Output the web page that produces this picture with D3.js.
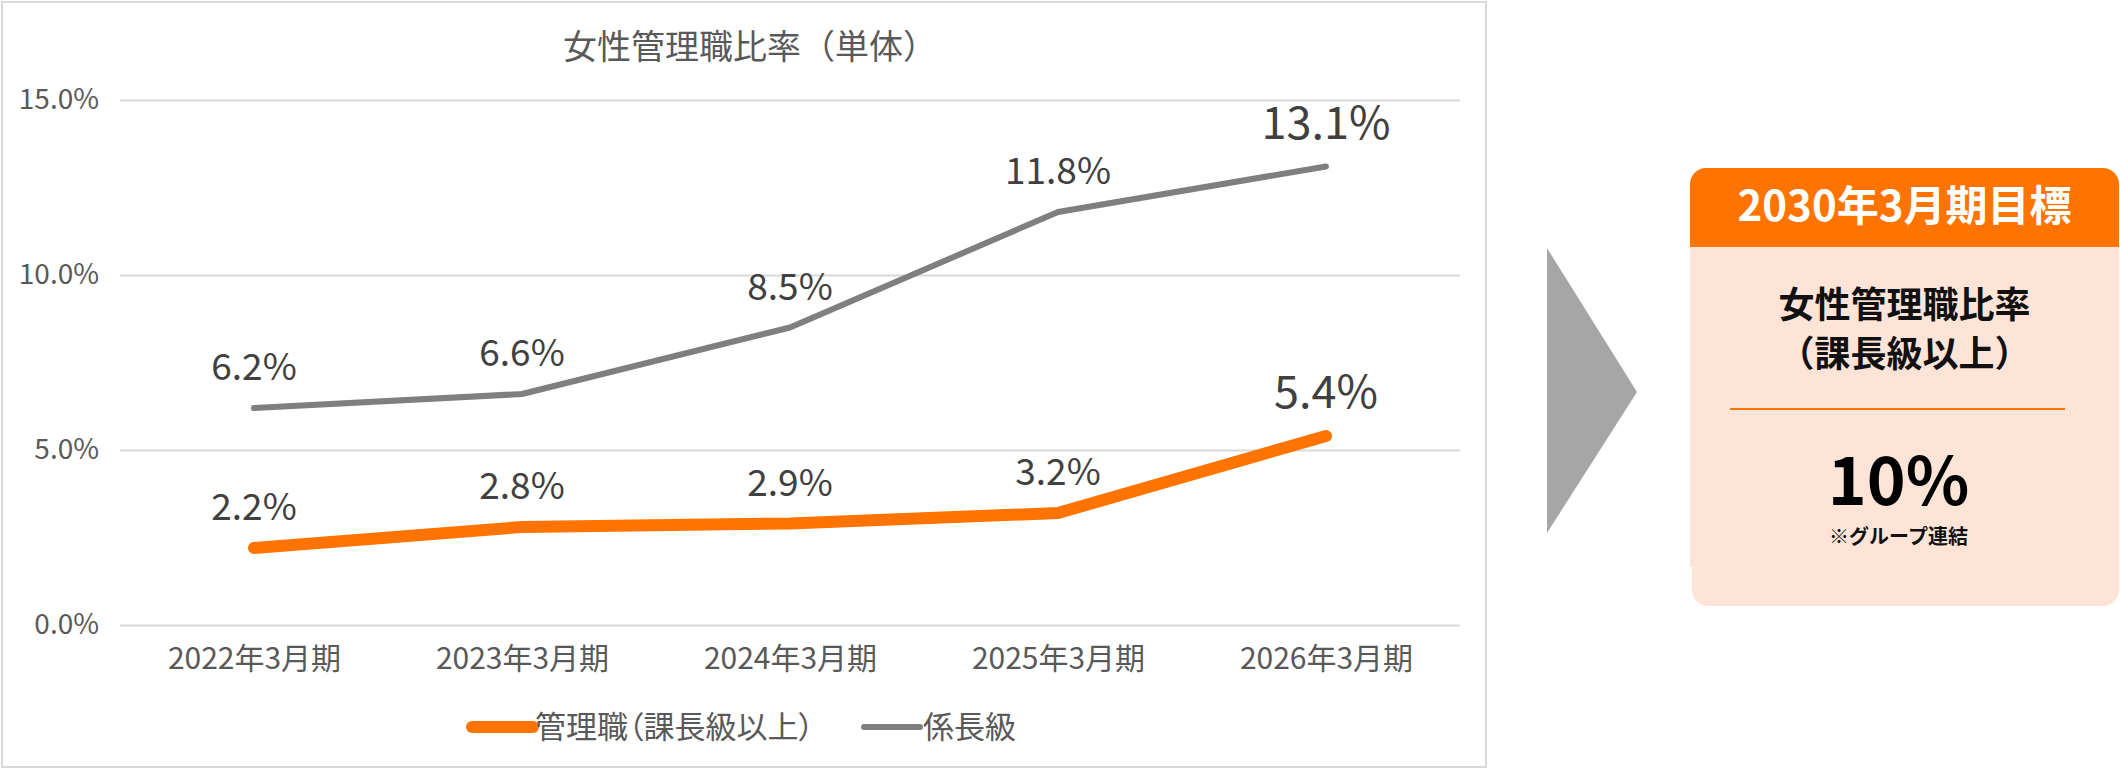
<!DOCTYPE html>
<html>
<head>
<meta charset="utf-8">
<script src="https://cdn.jsdelivr.net/npm/d3@7/dist/d3.min.js"></script>
<style>
  body { margin: 0; background: #fff; }
  text { font-family: "Noto Sans CJK JP", "Noto Sans", sans-serif; }
</style>
</head>
<body>
<div id="chart"></div>
<script>
// data
const categories = ["2022年3月期", "2023年3月期", "2024年3月期", "2025年3月期", "2026年3月期"];
const managerValues = [2.2, 2.8, 2.9, 3.2, 5.4];   // 管理職(課長級以上)
const chiefValues = [6.2, 6.6, 8.5, 11.8, 13.1];   // 係長級
const yTicks = [0, 5, 10, 15];
const seriesNames = ["管理職（課長級以上）", "係長級"];
const chartTitle = "女性管理職比率（単体）";
const goalHeader = "2030年3月期目標";
const goalLines = ["女性管理職比率", "（課長級以上）"];
const goalValue = "10%";
const goalNote = "※グループ連結";

const W = 2120, H = 771;
const orange = "#ff7300", gray = "#7f7f7f";

const svg = d3.select("#chart").append("svg")
  .attr("width", W)
  .attr("height", H);

// chart frame
svg.append("rect")
  .attr("x", 2).attr("y", 2)
  .attr("width", 1484).attr("height", 765)
  .attr("fill", "#fff")
  .attr("stroke", "#d9d9d9")
  .attr("stroke-width", 2);

const plotLeft = 120, plotRight = 1460, plotTop = 100, plotBottom = 625;

let x = d3.scalePoint()
  .domain(categories)
  .range([plotLeft, plotRight])
  .padding(0.5);

let y = d3.scaleLinear()
  .domain([0, 15])
  .range([plotBottom, plotTop]);

// title
svg.append("text")
  .attr("x", 750)
  .attr("y", 59)
  .attr("text-anchor", "middle")
  .attr("font-size", 34)
  .attr("fill", "#595959")
  .text(chartTitle);

// y axis + gridlines
let yAxis = svg.append("g")
  .attr("transform", "translate(" + plotLeft + ",0)")
  .call(d3.axisLeft(y)
    .tickValues(yTicks)
    .tickSize(-(plotRight - plotLeft))
    .tickPadding(21)
    .tickFormat(d => d.toFixed(1) + "%"));
yAxis.select(".domain").remove();
yAxis.selectAll("line").attr("stroke", "#d9d9d9").attr("stroke-width", 2);
yAxis.selectAll("text")
  .attr("font-size", 28)
  .attr("fill", "#595959")
  .style("font-family", "'Noto Sans CJK JP', sans-serif");

// x axis labels
let xAxis = svg.append("g")
  .attr("transform", "translate(0," + plotBottom + ")")
  .call(d3.axisBottom(x).tickSize(0).tickPadding(23));
xAxis.select(".domain").remove();
xAxis.selectAll("text")
  .attr("font-size", 30)
  .attr("fill", "#595959")
  .style("font-family", "'Noto Sans CJK JP', sans-serif");

let line = d3.line()
  .x((d, i) => x(categories[i]))
  .y(d => y(d));

svg.append("path")
  .datum(chiefValues)
  .attr("d", line)
  .attr("fill", "none")
  .attr("stroke", gray)
  .attr("stroke-width", 6)
  .attr("stroke-linecap", "round")
  .attr("stroke-linejoin", "round");

svg.append("path")
  .datum(managerValues)
  .attr("d", line)
  .attr("fill", "none")
  .attr("stroke", orange)
  .attr("stroke-width", 12)
  .attr("stroke-linecap", "round")
  .attr("stroke-linejoin", "round");

// data labels, last one is bigger
[managerValues, chiefValues].forEach(vals => {
  svg.append("g").selectAll("text")
    .data(vals)
    .join("text")
    .attr("x", (d, i) => x(categories[i]))
    .attr("y", d => y(d) - 28)
    .attr("text-anchor", "middle")
    .attr("font-size", (d, i) => i == vals.length - 1 ? 45 : 37)
    .attr("fill", "#404040")
    .text(d => d.toFixed(1) + "%");
});

// legend
let legend = svg.append("g");
let legendItems = [
  {name: seriesNames[0], color: orange, w: 12, x1: 472, x2: 533, tx: 535},
  {name: seriesNames[1], color: gray, w: 6, x1: 864, x2: 920, tx: 923}
];
legendItems.forEach(it => {
  legend.append("line")
    .attr("x1", it.x1).attr("x2", it.x2)
    .attr("y1", 727).attr("y2", 727)
    .attr("stroke", it.color)
    .attr("stroke-width", it.w)
    .attr("stroke-linecap", "round");
  legend.append("text")
    .attr("x", it.tx)
    .attr("y", 738)
    .attr("font-size", 31)
    .attr("fill", "#595959")
    .style("font-feature-settings", "'palt'")
    .text(it.name);
});

// arrow
svg.append("path")
  .attr("d", "M1547,248 L1637,392 L1547,533 Z")
  .attr("fill", "#a6a6a6");

// goal box
let bx = 1690, bw = 429;
svg.append("rect")
  .attr("x", bx).attr("y", 168)
  .attr("width", bw).attr("height", 100)
  .attr("rx", 16)
  .attr("fill", orange);
svg.append("rect")
  .attr("x", bx + 2).attr("y", 247)
  .attr("width", bw - 2).attr("height", 359)
  .attr("rx", 16)
  .attr("fill", "#fee4d6");
svg.append("rect")
  .attr("x", bx).attr("y", 247)
  .attr("width", bw).attr("height", 320)
  .attr("fill", "#fee4d6");

let cx = bx + bw / 2;
svg.append("text")
  .attr("x", cx).attr("y", 221)
  .attr("text-anchor", "middle")
  .attr("font-size", 42)
  .attr("font-weight", "bold")
  .attr("fill", "#fff")
  .text(goalHeader);

goalLines.forEach((t, i) => {
  svg.append("text")
    .attr("x", cx).attr("y", 318 + i * 49)
    .attr("text-anchor", "middle")
    .attr("font-size", 36)
    .attr("font-weight", "bold")
    .attr("fill", "#111")
    .text(t);
});

svg.append("line")
  .attr("x1", 1730).attr("x2", 2065)
  .attr("y1", 409).attr("y2", 409)
  .attr("stroke", orange)
  .attr("stroke-width", 2);

svg.append("text")
  .attr("x", cx - 6).attr("y", 505)
  .attr("text-anchor", "middle")
  .attr("font-size", 66)
  .attr("font-weight", "bold")
  .attr("fill", "#000")
  .text(goalValue);

svg.append("text")
  .attr("x", cx - 6).attr("y", 544)
  .attr("text-anchor", "middle")
  .attr("font-size", 20)
  .attr("font-weight", "bold")
  .attr("fill", "#111")
  .text(goalNote);
</script>
</body>
</html>
